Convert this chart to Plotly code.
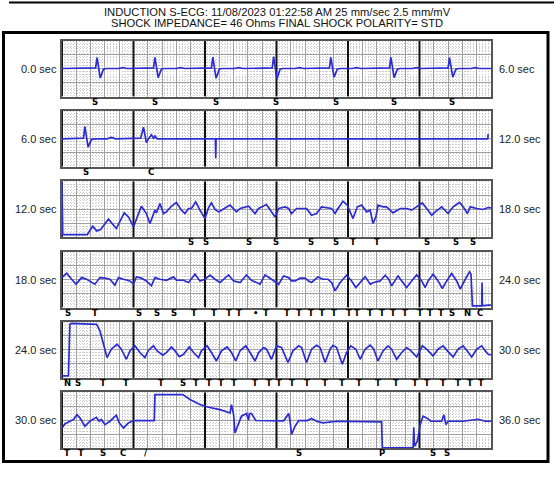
import plotly.graph_objects as go

W, H = 554, 477

title_line1 = "INDUCTION S-ECG: 11/08/2023 01:22:58 AM 25 mm/sec 2.5 mm/mV"
title_line2 = "SHOCK IMPEDANCE= 46 Ohms FINAL SHOCK POLARITY= STD"

strip_start = [0, 6, 12, 18, 24, 30]
left_labels = ["0.0 sec", "6.0 sec", "12.0 sec", "18.0 sec", "24.0 sec", "30.0 sec"]
right_labels = ["6.0 sec", "12.0 sec", "18.0 sec", "24.0 sec", "30.0 sec", "36.0 sec"]

t1 = [0.0, 0.37, 0.41, 0.44, 0.47, 0.49, 0.535, 0.58, 0.62, 0.79, 0.85, 0.91,
      1.18, 1.22, 1.25, 1.28, 1.30, 1.345, 1.39, 1.43, 1.60, 1.66, 1.72,
      1.99, 2.03, 2.06, 2.09, 2.11, 2.155, 2.20, 2.24, 2.41, 2.47, 2.53,
      2.84, 2.88, 2.91, 2.94, 2.96, 3.005, 3.05, 3.09, 3.26, 3.32, 3.38,
      3.64, 3.68, 3.71, 3.74, 3.76, 3.805, 3.85, 3.89, 4.06, 4.12, 4.18,
      4.48, 4.52, 4.55, 4.58, 4.60, 4.645, 4.69, 4.73, 4.90, 4.96, 5.02,
      5.30, 5.34, 5.37, 5.40, 5.42, 5.465, 5.51, 5.55, 5.72, 5.78, 5.84, 6.0]
a1 = [0, 0, 0.05, 0, 0.04, 0.78, -0.68, -0.05, 0, 0, 0.07, 0,
      0, 0.05, 0, 0.04, 0.80, -0.65, -0.05, 0, 0, 0.07, 0,
      0, 0.05, 0, 0.04, 0.82, -0.70, -0.05, 0, 0, 0.07, 0,
      0, 0.05, 0, 0.04, 0.85, -0.75, -0.05, 0, 0, 0.07, 0,
      0, 0.05, 0, 0.04, 0.80, -0.62, -0.05, 0, 0, 0.07, 0,
      0, 0.05, 0, 0.04, 0.80, -0.65, -0.05, 0, 0, 0.07, 0,
      0, 0.05, 0, 0.04, 0.78, -0.62, -0.05, 0, 0, 0.07, 0, 0]

t2 = [6.0, 6.18, 6.22, 6.26, 6.30, 6.32, 6.365, 6.41, 6.45, 6.63, 6.69, 6.75,
      6.95, 7.0, 7.05, 7.10, 7.14, 7.18, 7.215, 7.25, 7.28, 7.30, 7.33,
      8.145, 8.15, 8.155, 11.955, 11.96]
a2 = [0, 0, 0.04, 0, 0.05, 0.88, -0.59, -0.05, 0, 0, 0.1, 0,
      0, 0.03, 0, 0.05, 0.84, -0.26, 0.05, 0.29, 0.05, 0.2, 0,
      0, -1.38, 0, 0, 0.34]

t3 = [12.0, 12.01, 12.354, 12.43, 12.485, 12.54, 12.65, 12.72, 12.76, 12.87, 12.93,
      13.0, 13.07, 13.11, 13.18, 13.23, 13.30, 13.32, 13.37, 13.42, 13.46, 13.53,
      13.60, 13.67, 13.72, 13.77, 13.81, 13.87, 13.93, 14.0, 14.05, 14.09, 14.14,
      14.19, 14.23, 14.35, 14.44, 14.49, 14.61, 14.70, 14.75, 14.86, 14.98, 15.03,
      15.12, 15.17, 15.21, 15.28, 15.42, 15.49, 15.56, 15.63, 15.77, 15.82, 15.86,
      15.93, 15.99, 16.07, 16.13, 16.19, 16.26, 16.31, 16.35, 16.39, 16.42, 16.49,
      16.54, 16.63, 16.73, 16.82, 16.89, 16.96, 17.04, 17.10, 17.17, 17.22, 17.31,
      17.40, 17.47, 17.56, 17.61, 17.67, 17.71, 17.80, 17.89, 17.96, 18.0]
a3 = [1.95, -1.81, -1.81, -1.21, -1.55, -1.45, -0.71, -1.14, -1.38, -0.26, -0.55,
      -1.26, -0.31, 0.21, -0.31, -1.02, -0.07, -0.26, 0.40, -0.31, -0.19, 0.21,
      0.48, -0.07, -0.31, 0.05, 0.05, 0.52, -0.07, -0.67, 0.12, 0.45, -0.02,
      -0.19, -0.07, 0.29, -0.19, 0.05, 0.21, -0.31, 0.05, 0.33, -0.55, 0.05,
      0.17, 0.05, -0.31, 0.05, 0.05, -0.43, -0.31, 0.17, 0.05, -0.31, 0.05,
      0.57, 0.29, -0.67, 0.17, 0.29, -0.19, -0.07, -1.02, -0.55, 0.29, 0.17,
      0.17, -0.26, 0.05, 0.05, -0.07, 0.17, 0.45, 0.05, -0.43, -0.19, 0.17,
      -0.31, 0.17, 0.48, 0.17, -0.31, 0.17, 0.05, -0.02, 0.12, 0.10]

t4 = [18.0, 18.065, 18.135, 18.196, 18.275, 18.345, 18.46, 18.53, 18.60, 18.67,
      18.74, 18.79, 18.86, 18.95, 19.0, 19.04, 19.11, 19.18, 19.25, 19.30, 19.37,
      19.46, 19.56, 19.60, 19.70, 19.77, 19.86, 19.93, 20.0, 20.07, 20.14, 20.21,
      20.26, 20.33, 20.40, 20.49, 20.58, 20.65, 20.77, 20.84, 20.93, 20.98, 21.03,
      21.10, 21.17, 21.21, 21.26, 21.33, 21.40, 21.45, 21.49, 21.58, 21.65, 21.72,
      21.77, 21.82, 21.89, 21.98, 22.05, 22.11, 22.17, 22.24, 22.31, 22.36, 22.45,
      22.52, 22.57, 22.61, 22.70, 22.75, 22.82, 22.89, 22.96, 23.03, 23.08, 23.12,
      23.19, 23.26, 23.32, 23.38, 23.45, 23.52, 23.57, 23.64, 23.70, 23.72, 23.74,
      23.87, 23.875, 23.88, 23.96, 24.0]
a4 = [0.14, 0.45, 0.02, -0.33, 0.14, 0.02, -0.33, 0.14, 0.10, 0.02,
      -0.40, 0.14, 0.02, -0.10, -0.33, 0.19, 0.10, -0.10, -0.45, 0.14, 0.02,
      -0.05, 0.19, -0.05, -0.05, -0.21, 0.38, -0.10, 0.02, 0.31, 0.02, -0.21,
      0.02, 0.33, -0.10, -0.21, 0.33, -0.05, -0.33, 0.33, 0.02, -0.17, -0.33,
      0.26, 0.14, -0.10, -0.10, 0.10, 0.10, -0.10, -0.21, 0.19, 0.02, 0.02,
      -0.21, -0.81, -0.21, 0.31, -0.10, -0.57, -0.21, 0.21, -0.33, -0.21, -0.10,
      0.31, 0.02, -0.45, 0.26, -0.10, -0.57, -0.10, 0.33, -0.10, -0.57, -0.10,
      0.38, -0.10, -0.64, -0.10, 0.43, -0.10, -0.69, 0.02, 0.55, 0.38, -1.88,
      -1.88, -0.21, -1.88, -1.83, -1.83]

t5 = [24.0, 24.09, 24.11, 24.135, 24.485, 24.53, 24.60, 24.63, 24.69, 24.77, 24.83,
      24.90, 24.95, 25.02, 25.09, 25.16, 25.21, 25.28, 25.33, 25.41, 25.46, 25.53,
      25.58, 25.64, 25.70, 25.78, 25.84, 25.91, 25.95, 26.03, 26.09, 26.16, 26.23,
      26.31, 26.37, 26.43, 26.49, 26.57, 26.63, 26.70, 26.75, 26.82, 26.86, 26.93,
      27.0, 27.07, 27.16, 27.23, 27.31, 27.35, 27.42, 27.49, 27.56, 27.61, 27.68,
      27.75, 27.79, 27.84, 27.92, 27.98, 28.04, 28.11, 28.17, 28.24, 28.31, 28.36,
      28.42, 28.49, 28.56, 28.61, 28.68, 28.75, 28.82, 28.87, 28.96, 29.04, 29.10,
      29.19, 29.26, 29.33, 29.39, 29.47, 29.54, 29.61, 29.66, 29.73, 29.80, 29.87,
      29.92, 29.96, 30.0]
a5 = [-1.86, -1.86, 1.83, 1.90, 1.83, 1.36, 0.05, -0.55, 0.05, 0.40, 0.05,
      -0.67, -0.07, 0.29, -0.19, -0.55, -0.02, 0.29, -0.07, -0.38, -0.19, 0.21,
      -0.07, -0.48, -0.31, 0.21, -0.19, -0.55, -0.07, 0.29, -0.19, -0.79, -0.07,
      0.21, -0.19, -0.79, -0.07, 0.29, -0.19, -0.79, -0.19, 0.17, 0.05, -0.67,
      0.29, 0.17, -0.90, -0.07, 0.29, 0.17, -0.90, 0.05, 0.33, 0.17, -0.90,
      0.05, 0.33, 0.17, -1.02, -0.19, 0.29, 0.05, -0.67, 0.05, 0.33, 0.05,
      -0.79, -0.07, 0.29, 0.05, -0.67, -0.19, 0.17, -0.02, -0.50, 0.29, 0.05,
      -0.43, 0.05, 0.29, -0.07, -0.50, 0.05, 0.29, -0.02, -0.50, 0.05, 0.29,
      -0.07, -0.31, -0.35]

t6 = [30.0, 30.04, 30.11, 30.16, 30.21, 30.25, 30.32, 30.39, 30.48, 30.52, 30.55,
      30.60, 30.67, 30.76, 30.80, 30.86, 30.93, 31.0, 31.29, 31.30, 31.69, 31.79,
      31.93, 32.05, 32.21, 32.35, 32.37, 32.40, 32.42, 32.47, 32.51, 32.58, 32.61,
      32.62, 32.65, 32.71, 33.10, 33.17, 33.19, 33.21, 33.26, 33.31, 33.43, 33.49,
      33.56, 33.65, 33.84, 34.47, 34.48, 34.91, 34.92, 34.93, 34.97, 35.01, 35.05,
      35.10, 35.16, 35.31, 35.34, 35.37, 35.40, 35.61, 35.71, 35.82, 35.92, 36.0]
a6 = [-0.55, -0.26, -0.07, 0.05, 0.40, 0.17, -0.43, -0.07, 0.21, -0.07, 0.05,
      -0.31, -0.07, 0.36, -0.19, -0.55, -0.19, -0.02, -0.02, 1.83, 1.83, 1.48,
      1.12, 0.93, 0.76, 0.52, 1.12, 0.40, -0.90, -0.31, 0.29, 0.48, 0.0,
      0.48, 0.48, -0.02, -0.05, 0.48, -0.07, -1.02, -0.43, -0.02, -0.02, 0.12,
      -0.07, -0.19, -0.07, -0.12, -1.98, -1.98, -0.50, -1.86, -1.50, -0.31, 0.29,
      0.17, -0.07, -0.07, 0.40, -0.31, -0.07, -0.07, -0.02, 0.07, -0.07, -0.07]

# event markers printed under each strip
m1_t = [0.46, 1.30, 2.15, 2.99, 3.83, 4.64, 5.46]
m1_txt = ["S", "S", "S", "S", "S", "S", "S"]
m2_t = [6.34, 7.24]
m2_txt = ["S", "C"]
m3_t = [13.81, 14.01, 14.61, 14.99, 15.48, 15.83, 16.07, 16.40, 17.11, 17.51, 17.75]
m3_txt = ["S", "S", "S", "S", "S", "S", "T", "T", "S", "S", "S"]
m4_t = [18.09, 18.46, 19.08, 19.33, 19.57, 19.84, 20.12, 20.33, 20.48, 20.70, 20.85,
        21.14, 21.32, 21.48, 21.64, 21.80, 22.02, 22.13, 22.31, 22.47, 22.63, 22.80,
        23.01, 23.14, 23.30, 23.46, 23.67, 23.85]
m4_txt = ["S", "T", "S", "S", "S", "T", "T", "T", "T", "•", "T",
          "T", "T", "T", "T", "T", "T", "T", "T", "T", "T", "T",
          "T", "T", "T", "S", "N", "C"]
m5_t = [24.07, 24.23, 24.57, 24.90, 25.39, 25.69, 25.88, 26.05, 26.23, 26.40, 26.70,
        26.89, 27.04, 27.21, 27.43, 27.68, 27.91, 28.16, 28.42, 28.67, 28.94, 29.10,
        29.33, 29.54, 29.71, 29.86]
m5_txt = ["N", "S", "T", "T", "T", "S", "T", "T", "T", "T", "T",
          "T", "T", "T", "T", "T", "T", "T", "T", "T", "T", "T",
          "T", "T", "T", "T"]
m6_t = [30.07, 30.27, 30.57, 30.86, 31.18, 33.31, 34.48, 35.19, 35.38]
m6_txt = ["T", "T", "S", "C", "/", "S", "P", "S", "S"]

traces_t = [t1, t2, t3, t4, t5, t6]
traces_a = [a1, a2, a3, a4, a5, a6]
marks_t = [m1_t, m2_t, m3_t, m4_t, m5_t, m6_t]
marks_txt = [m1_txt, m2_txt, m3_txt, m4_txt, m5_txt, m6_txt]

# page geometry (pixels)
GX0, GX1 = 62, 491
TOP0, STEP, GH = 40.5, 70.35, 56

fig = go.Figure()
shapes = []
annotations = []

for i in range(6):
    n = "" if i == 0 else str(i + 1)
    top = TOP0 + STEP * i
    s0 = strip_start[i]

    fig.add_trace(go.Scatter(
        x=traces_t[i], y=traces_a[i], mode="lines",
        line=dict(color="#2c2cd2", width=1.7),
        xaxis="x" + n, yaxis="y" + n, hoverinfo="skip",
    ))

    # event letters sit just under the strip
    y_mark = 1 - (top + GH + 5) / H
    for tm, lab in zip(marks_t[i], marks_txt[i]):
        annotations.append(dict(
            text=lab, x=tm, y=y_mark, xref="x" + n, yref="paper",
            showarrow=False, xanchor="center", yanchor="middle",
            font=dict(size=8.5, color="#000", family="DejaVu Sans", weight=900),
        ))

    grid = dict(
        showticklabels=False, ticks="", zeroline=False,
        showgrid=True, gridcolor="#a0a0a0", gridwidth=1,
        showline=True, mirror=True, linecolor="#555", linewidth=1.5,
    )
    fig.update_layout(**{
        "xaxis" + n: dict(
            grid, domain=[GX0 / W, GX1 / W], range=[s0, s0 + 6],
            tick0=0, dtick=0.2,
            minor=dict(dtick=0.04, showgrid=True, gridcolor="#cacaca",
                       griddash="1px,2px", gridwidth=1),
            anchor="y" + n,
        ),
        "yaxis" + n: dict(
            grid, domain=[1 - (top + GH) / H, 1 - top / H], range=[-2, 2],
            tick0=0, dtick=1,
            minor=dict(dtick=0.2, showgrid=True, gridcolor="#cacaca",
                       griddash="1px,2px", gridwidth=1),
            anchor="x" + n,
        ),
    })

    # heavy one-second lines
    for k in range(6):
        shapes.append(dict(
            type="line", xref="x" + n, yref="y" + n,
            x0=s0 + k, x1=s0 + k, y0=-2, y1=2,
            line=dict(color="#111", width=2), layer="between",
        ))

    yc = 1 - (top + GH / 2) / H
    annotations.append(dict(
        text=left_labels[i], x=59 / W, y=yc, xref="paper", yref="paper",
        xanchor="right", yanchor="middle", showarrow=False,
        font=dict(size=11, color="#222", family="Liberation Sans"),
    ))
    annotations.append(dict(
        text=right_labels[i], x=497 / W, y=yc, xref="paper", yref="paper",
        xanchor="left", yanchor="middle", showarrow=False,
        font=dict(size=11, color="#222", family="Liberation Sans"),
    ))

for txt, ypix in [(title_line1, 12), (title_line2, 23)]:
    annotations.append(dict(
        text=txt, x=0.5, y=1 - ypix / H, xref="paper", yref="paper",
        xanchor="center", yanchor="middle", showarrow=False,
        font=dict(size=11.2, color="#111", family="Liberation Sans"),
    ))

# outer frame and top rule
shapes.append(dict(
    type="rect", xref="paper", yref="paper",
    x0=3.5 / W, x1=548 / W, y0=1 - 461.5 / H, y1=1 - 32.5 / H,
    line=dict(color="#000", width=3),
))
shapes.append(dict(
    type="line", xref="paper", yref="paper",
    x0=9 / W, x1=1, y0=1 - 2.5 / H, y1=1 - 2.5 / H,
    line=dict(color="#000", width=2),
))

fig.update_layout(
    width=W, height=H,
    margin=dict(l=0, r=0, t=0, b=0),
    paper_bgcolor="white", plot_bgcolor="white",
    showlegend=False,
    shapes=shapes, annotations=annotations,
)

fig.write_html(
    "out.html",
    config={"displayModeBar": False},
    post_script="document.body.style.margin='0';",
)
